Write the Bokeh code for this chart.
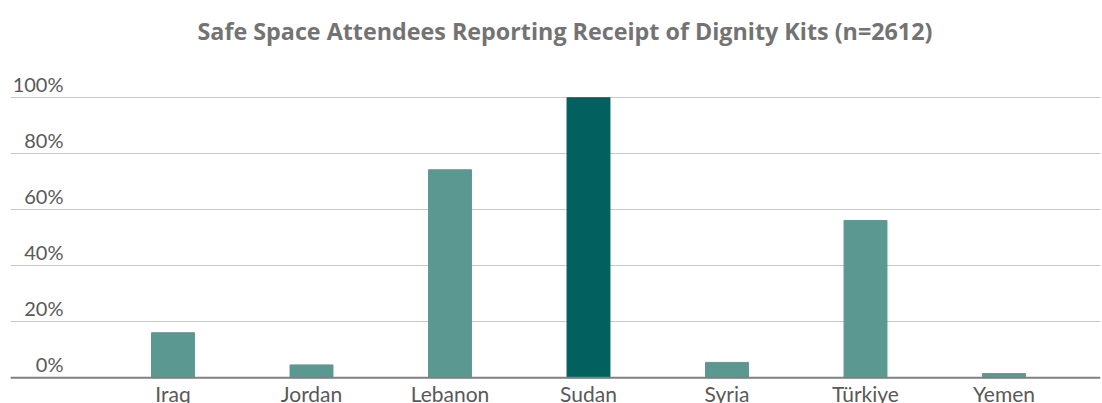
from bokeh.plotting import figure
from bokeh.models import Range1d, FixedTicker, ColumnDataSource, Span, Label
from bokeh.core.properties import value
from bokeh.embed import file_html
from bokeh.resources import INLINE

countries = ["Iraq", "Jordan", "Lebanon", "Sudan", "Syria", "Türkiye", "Yemen"]
values = [16.1, 4.6, 74.3, 100.0, 5.5, 56.2, 1.5]
highlight = ["Sudan"]
y_ticks = [0, 20, 40, 60, 80, 100]
y_tick_labels = ["0%", "20%", "40%", "60%", "80%", "100%"]
title = "Safe Space Attendees Reporting Receipt of Dignity Kits (n=2612)"

LIGHT = "#5b9892"
DARK = "#02605e"
LABEL = "#595959"

xs = list(range(len(countries)))
colors = [DARK if c in highlight else LIGHT for c in countries]

W, H = 1102, 403
px_per_cat = 138.5
px_per_pct = 2.8
zero_px = 377.3
x_start = -162.5 / px_per_cat
x_end = 6 + 96.5 / px_per_cat
y_start = -(H - zero_px) / px_per_pct
y_end = zero_px / px_per_pct

p = figure(width=W, height=H, output_backend="svg", toolbar_location=None,
           x_range=Range1d(x_start, x_end), y_range=Range1d(y_start, y_end),
           min_border_left=10, min_border_right=2, min_border_top=0,
           min_border_bottom=0)

src = ColumnDataSource(dict(x=xs, top=values, color=colors, name=countries))
p.vbar(x="x", top="top", bottom=0, width=0.31, color="color", source=src)

# y tick labels, sitting just above each gridline
lab = ColumnDataSource(dict(x=[x_start + 53 / px_per_cat] * len(y_ticks), y=y_ticks, t=y_tick_labels))
p.text(x="x", y="y", text="t", source=lab, text_align="right", text_baseline="bottom",
       y_offset=-2, text_font=value("Lato"), text_font_size="20px", text_color=LABEL)

# category labels under the zero line
cat = ColumnDataSource(dict(x=xs, y=[0] * len(xs), t=countries))
p.text(x="x", y="y", text="t", source=cat, text_align="center", text_baseline="top",
       y_offset=3, text_font=value("Lato"), text_font_size="21px", text_color=LABEL)

p.add_layout(Span(location=0, dimension="width", line_color="#808080", line_width=2))

p.add_layout(Label(x=187, y=H - 30, x_units="screen", y_units="screen", text=title,
                   text_align="left", text_baseline="alphabetic",
                   text_font="Open Sans", text_font_style="bold",
                   text_font_size="23.3px", text_color="#737373"))

p.xaxis.visible = False
p.yaxis.visible = False
p.xgrid.grid_line_color = None
p.ygrid.ticker = FixedTicker(ticks=y_ticks)
p.ygrid.grid_line_color = "#c8c8c8"
p.outline_line_color = None

open("out.html", "w").write(file_html(p, INLINE))
